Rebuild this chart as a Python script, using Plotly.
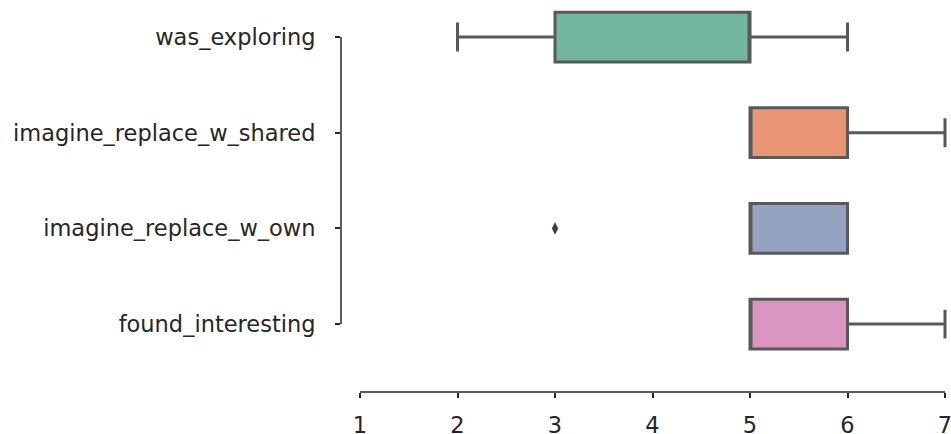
import plotly.graph_objects as go

categories = ["was_exploring", "imagine_replace_w_shared", "imagine_replace_w_own", "found_interesting"]
q1_values = [3, 5, 5, 5]
median_values = [5, 5, 5, 5]
q3_values = [5, 6, 6, 6]
lower_fences = [2, 5, 5, 5]
upper_fences = [6, 7, 6, 7]
box_colors = ["#72b6a1", "#e99675", "#95a3c3", "#db96c0"]
outlier_categories = ["imagine_replace_w_own"]
outlier_values = [3]
x_ticks = [1, 2, 3, 4, 5, 6, 7]

LINE = "#595959"
AXIS = "#262626"
FONT = dict(family="DejaVu Sans", size=22.5, color="#262626")

fig = go.Figure()
for i, cat in enumerate(categories):
    fig.add_trace(go.Box(
        y=[cat], q1=[q1_values[i]], median=[median_values[i]], q3=[q3_values[i]],
        lowerfence=[lower_fences[i]], upperfence=[upper_fences[i]],
        orientation="h", fillcolor=box_colors[i],
        line=dict(color=LINE, width=3), width=0.52, whiskerwidth=0.58,
        boxpoints=False, showlegend=False, hoverinfo="skip",
    ))

fig.add_trace(go.Scatter(
    x=outlier_values, y=outlier_categories, mode="markers",
    marker=dict(symbol="diamond-tall", size=9, color="#3f3f3f"),
    showlegend=False, hoverinfo="skip",
))

fig.add_shape(type="line", xref="x", yref="paper", x0=x_ticks[0], x1=x_ticks[-1], y0=0, y1=0,
              line=dict(color=AXIS, width=1.5))
fig.add_shape(type="line", xref="paper", yref="y", x0=0, x1=0, y0=0, y1=len(categories) - 1,
              line=dict(color=AXIS, width=1.5))

fig.update_layout(
    width=951, height=434,
    margin=dict(l=341, r=0, t=0, b=42),
    paper_bgcolor="white", plot_bgcolor="white",
    font=FONT,
    xaxis=dict(range=[0.805, 7.0615], tickvals=x_ticks, ticks="outside", ticklen=5,
               tickwidth=1.5, tickcolor=AXIS, showgrid=False, zeroline=False, showline=False,
               automargin=False, tickfont=FONT, ticklabelstandoff=8, ticklabeloverflow="allow"),
    yaxis=dict(type="category", categoryorder="array", categoryarray=categories,
               range=[3.71, -0.387], ticks="outside", ticklen=5, tickwidth=1.5, tickcolor=AXIS,
               showgrid=False, zeroline=False, showline=False, automargin=False,
               tickfont=FONT, ticklabelstandoff=15),
)

fig.write_html("out.html", post_script="document.body.style.margin='0';",
               config={"displayModeBar": False})
